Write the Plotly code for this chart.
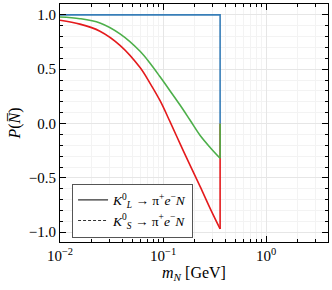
import plotly.graph_objects as go

# Data
m_end = 0.3575
blue_m = [0.01, 0.3575, 0.3575]
blue_p = [1.0, 1.0, 0.0]

green_m = [0.01, 0.0156, 0.0244, 0.0382, 0.0598, 0.0748, 0.0935, 0.117, 0.146, 0.183, 0.229, 0.286, 0.3575]
green_p = [0.98, 0.965, 0.925, 0.825, 0.665, 0.555, 0.43, 0.30, 0.17, 0.03, -0.11, -0.22, -0.32]
green_end = [-0.32, 0.0]

red_m = [0.01, 0.0156, 0.0244, 0.0382, 0.0598, 0.0748, 0.0935, 0.117, 0.146, 0.183, 0.229, 0.286, 0.3575]
red_p = [0.95, 0.915, 0.85, 0.72, 0.515, 0.37, 0.21, 0.015, -0.185, -0.385, -0.58, -0.78, -0.97]
red_end = [-0.97, 0.0]

legend_labels = ["<i>K</i><sup>0</sup><sub><i>L</i></sub> → π<sup>+</sup><i>e</i><sup>−</sup><i>N</i>",
                 "<i>K</i><sup>0</sup><sub><i>S</i></sub> → π<sup>+</sup><i>e</i><sup>−</sup><i>N</i>"]

x_tickvals = [0.01, 0.1, 1.0]
x_ticktext = ["10<sup>−2</sup>", "10<sup>−1</sup>", "10<sup>0</sup>"]
x_minor = [k * 10 ** e for e in (-2, -1, 0) for k in range(2, 10)]
y_tickvals = [-1.0, -0.5, 0.0, 0.5, 1.0]
y_ticktext = ["−1.0", "−0.5", "0.0", "0.5", "1.0"]

FONT = "Liberation Serif"
LW = 1.6

fig = go.Figure()
fig.add_trace(go.Scatter(x=red_m, y=red_p, mode="lines", line=dict(color="#e41a1c", width=LW, shape="spline", smoothing=1.0), showlegend=False))
fig.add_trace(go.Scatter(x=[m_end, m_end], y=red_end, mode="lines", line=dict(color="#e41a1c", width=LW), showlegend=False))
fig.add_trace(go.Scatter(x=green_m, y=green_p, mode="lines", line=dict(color="#4daf4a", width=LW, shape="spline", smoothing=1.0), showlegend=False))
fig.add_trace(go.Scatter(x=[m_end, m_end], y=green_end, mode="lines", line=dict(color="#4daf4a", width=LW), showlegend=False))
fig.add_trace(go.Scatter(x=blue_m, y=blue_p, mode="lines", line=dict(color="#377eb8", width=LW), showlegend=False))
fig.add_trace(go.Scatter(x=[None], y=[None], mode="lines", line=dict(color="#333333", width=1.2),
                         name=legend_labels[0]))
fig.add_trace(go.Scatter(x=[None], y=[None], mode="lines", line=dict(color="#333333", width=1.0, dash="3px,2px"),
                         name=legend_labels[1]))

fig.update_layout(
    width=332, height=290,
    margin=dict(l=60, r=4, t=4, b=48),
    plot_bgcolor="white", paper_bgcolor="white",
    font=dict(family=FONT, size=13, color="black"),
    legend=dict(x=0.045, y=0.245, xanchor="left", yanchor="top",
                bordercolor="#555555", borderwidth=1, bgcolor="white",
                font=dict(family=FONT, size=13.5), tracegroupgap=0, itemwidth=30),
)
fig.update_xaxes(
    type="log", range=[-2, 0.6], automargin=False,
    tickvals=x_tickvals, ticktext=x_ticktext,
    ticks="inside", ticklen=6, tickcolor="black",
    minor=dict(tickvals=x_minor, ticks="inside", ticklen=3, tickcolor="black", showgrid=True, gridcolor="#f3f3f3"),
    showline=True, linecolor="black", linewidth=1, mirror="allticks",
    showgrid=True, gridcolor="#e6e6e6", gridwidth=1,
    zeroline=False,
    title=dict(text="<i>m</i><sub><i>N</i></sub> [GeV]", font=dict(family=FONT, size=16), standoff=0),
    tickfont=dict(family=FONT, size=15),
)
fig.update_yaxes(
    range=[-1.09, 1.1], automargin=False,
    tickvals=y_tickvals, ticktext=y_ticktext,
    ticks="inside", ticklen=6, tickcolor="black",
    minor=dict(dtick=0.1, ticks="inside", ticklen=3, tickcolor="black", showgrid=True, gridcolor="#f3f3f3"),
    showline=True, linecolor="black", linewidth=1, mirror="allticks",
    showgrid=True, gridcolor="#e6e6e6", gridwidth=1,
    zeroline=False,
    title=dict(text="<i>P</i>(<i>N\u0305</i>)", font=dict(family=FONT, size=16), standoff=4),
    tickfont=dict(family=FONT, size=15),
)

fig.write_html("out.html", config={"displayModeBar": False},
               post_script="document.body.style.margin='0';document.body.style.overflow='hidden';")
